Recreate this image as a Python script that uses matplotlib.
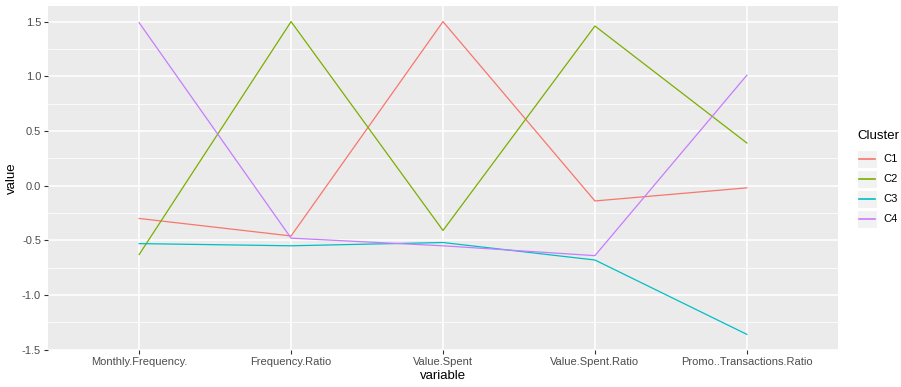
import matplotlib
matplotlib.use("Agg")
import matplotlib.pyplot as plt
from matplotlib.lines import Line2D
from matplotlib.patches import Rectangle
import numpy as np

plt.rcParams["font.family"] = ["Liberation Sans", "DejaVu Sans"]

variables = ["Monthly.Frequency.", "Frequency.Ratio", "Value.Spent",
             "Value.Spent.Ratio", "Promo..Transactions.Ratio"]
clusters = ["C1", "C2", "C3", "C4"]
c1 = [-0.30, -0.46, 1.50, -0.14, -0.02]
c2 = [-0.63, 1.50, -0.41, 1.46, 0.39]
c3 = [-0.53, -0.55, -0.52, -0.68, -1.36]
c4 = [1.49, -0.48, -0.55, -0.64, 1.01]
series = [c1, c2, c3, c4]
colors = ["#F8766D", "#7CAE00", "#00BFC4", "#C77CFF"]
y_ticks = [-1.5, -1.0, -0.5, 0.0, 0.5, 1.0, 1.5]

W, H = 901, 387
fig = plt.figure(figsize=(W / 100, H / 100), dpi=100)
ax = fig.add_axes([48 / W, 1 - 350 / H, (838 - 48) / W, (350 - 6) / H])
ax.set_facecolor("#EBEBEB")

x = np.arange(len(variables))
for vals, col, name in zip(series, colors, clusters):
    ax.plot(x, vals, color=col, lw=0.9, label=name, zorder=3)

ax.set_xlim(-0.6, len(variables) - 1 + 0.6)
allv = np.concatenate([np.array(s) for s in series])
lo, hi = allv.min(), allv.max()
pad = 0.05 * (hi - lo)
ax.set_ylim(lo - pad, hi + pad)

ax.set_xticks(x)
ax.set_xticklabels(variables)
ax.set_yticks(y_ticks)
ax.set_yticklabels([f"{v:.1f}" for v in y_ticks])
ax.set_yticks([v + 0.25 for v in y_ticks[:-1]], minor=True)

ax.grid(which="major", color="white", lw=1.1, zorder=1)
ax.grid(which="minor", axis="y", color="white", lw=0.55, zorder=1)
ax.set_axisbelow(True)
for s in ax.spines.values():
    s.set_visible(False)
ax.tick_params(axis="both", which="major", length=3, width=0.8, color="#333333",
               labelsize=8, labelcolor="#4D4D4D", pad=2)
ax.tick_params(axis="y", which="minor", length=0)

ax.set_xlabel("variable", fontsize=9.5, color="black", labelpad=2)
ax.set_ylabel("value", fontsize=9.5, color="black", labelpad=3)

# legend
fig.text(857 / W, 1 - 136 / H, "Cluster", fontsize=9.5, va="center", ha="left")
for i, (col, name) in enumerate(zip(colors, clusters)):
    yc = 159 + 20 * i
    fig.patches.append(Rectangle((857 / W, 1 - (yc + 9) / H), 20 / W, 18 / H,
                                 transform=fig.transFigure, facecolor="#F2F2F2",
                                 edgecolor="white", lw=0.8))
    fig.lines.append(Line2D([859 / W, 875 / W], [1 - yc / H, 1 - yc / H],
                            transform=fig.transFigure, color=col, lw=1.2))
    fig.text(883 / W, 1 - yc / H, name, fontsize=8, va="center", ha="left")

fig.savefig("out.png", dpi=100)
